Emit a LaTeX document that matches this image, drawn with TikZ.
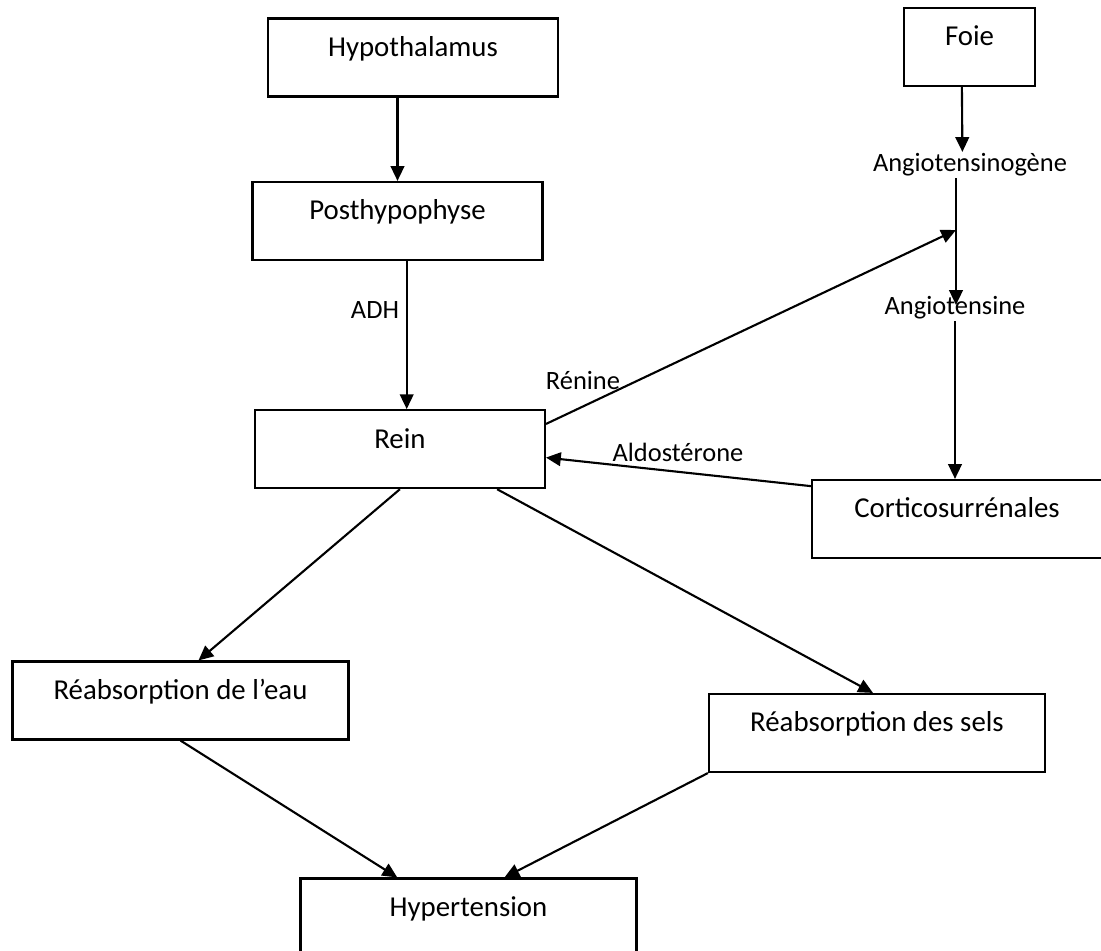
\documentclass[tikz,border=0pt]{standalone}
\usepackage{fontspec}
\setmainfont{Carlito}
\usetikzlibrary{arrows.meta, positioning}

\begin{document}
\begin{tikzpicture}[x=0.025cm, y=-0.025cm, node distance=1.8cm, every node/.style={font=\fontsize{20.5}{24}\selectfont}]
    % Styles
    \tikzstyle{organ} = [rectangle, draw=black, line width=1.5pt, inner sep=0pt, minimum width=7.25cm, text height=0.95cm, text depth=1.0cm, align=center]
    \tikzstyle{wide} = [organ, minimum width=8.4cm]
    \tikzstyle{hormone} = [inner sep=1pt, font=\fontsize{18.8}{22}\selectfont]
    \tikzstyle{link} = [->, >={Triangle[length=0.37cm, width=0.34cm]}, line width=1.5pt]

    \useasboundingbox (0,0) rectangle (1101,951);

    % Nodes
    \node[organ] (hypo) at (413,57.5) {Hypothalamus};
    \node[organ, minimum width=3.275cm] (foie) at (969.5,47) {Foie};
    \node[organ] (post) at (397.5,221) {Posthypophyse};
    \node[organ, below=3.7cm of post, xshift=0.06cm] (rein) {Rein};
    \node[organ] (cortico) at (957,519) {Corticosurrénales};
    \node[wide] (eau) at (180.5,700.5) {Réabsorption de l’eau};
    \node[wide] (sels) at (877,733) {Réabsorption des sels};
    \node[wide] (hyper) at (468.5,917.5) {Hypertension};

    \node[hormone] (angiogen) at (970,165) {Angiotensinogène};
    \node[hormone] (angio) at (955,308) {Angiotensine};
    \node[hormone] (adh) at (375,310) {ADH};
    \node[hormone] (renine) at (583,380) {Rénine};
    \node[hormone] (aldo) at (678,452) {Aldostérone};

    \coordinate (meet) at (956,230);

    % Connections
    \draw[link] (hypo.south -| post.north) -- (post.north);
    \draw[link] ([xshift=-0.19cm]foie.south) -- ([xshift=-0.19cm]angiogen.north);
    \draw[link] (angiogen.south -| meet) -- ([yshift=-0.25cm]angio.north -| meet);
    \draw[link] (angio.south) -- (angio.south |- cortico.north);

    \draw[link] (post.south -| adh.east) ++(0.15cm,0) coordinate (adhtop) -- (adhtop |- rein.north);
    \draw[link] ([yshift=0.63cm]rein.east) -- (meet);
    \draw[link] ([yshift=-0.18cm]cortico.north west) -- ([yshift=-0.21cm]rein.east);

    \draw[link] (rein.south) -- ([xshift=0.45cm]eau.north);
    \draw[link] ([xshift=2.43cm]rein.south) -- ([xshift=-0.1cm]sels.north);
    \draw[link] (eau.south) -- ([xshift=-1.78cm]hyper.north);
    \draw[link] (sels.south west) -- ([xshift=0.9cm]hyper.north);
\end{tikzpicture}
\end{document}
